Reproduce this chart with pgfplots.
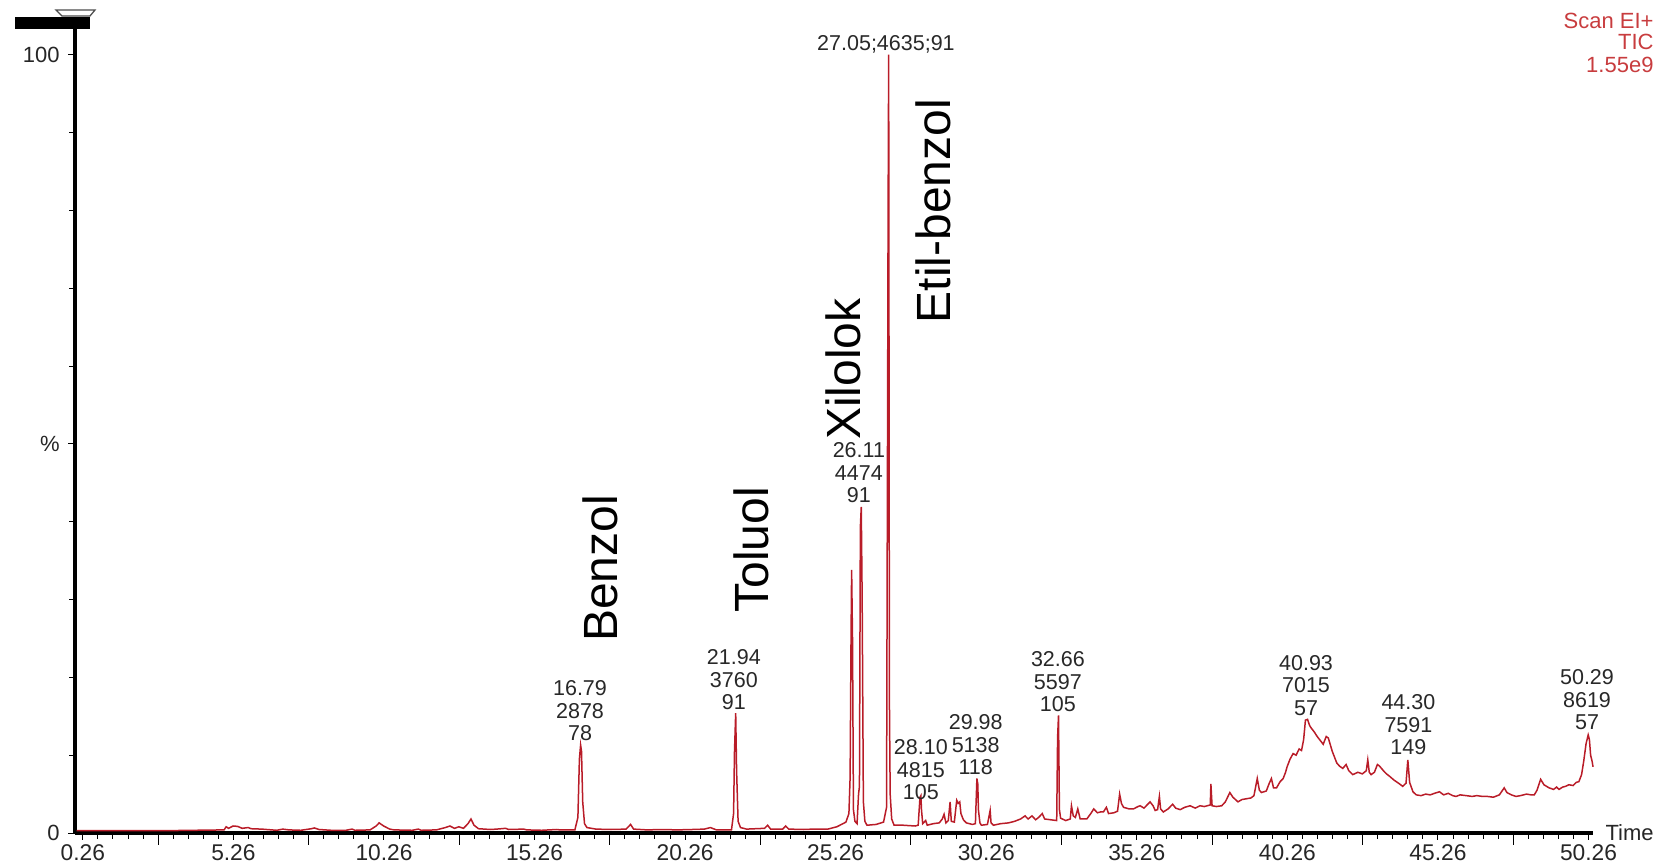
\documentclass[border=0pt]{standalone}
\usepackage{fontspec}
\setmainfont{Liberation Sans}
\usepackage{pgfplots}
\pgfplotsset{compat=1.18}
\definecolor{trace}{RGB}{185,28,40}
\definecolor{scanred}{RGB}{200,60,62}
\definecolor{lab}{RGB}{40,40,40}
\pgfplotstableread{
t p
0.05 0.3
1.0 0.3
2.0 0.3
3.0 0.3
4.0 0.35
4.95 0.4
5.02 0.8
5.1 0.6
5.25 0.9
5.4 0.85
5.55 0.6
5.75 0.7
5.85 0.55
6.2 0.5
6.7 0.35
6.9 0.5
7.1 0.4
7.5 0.35
7.85 0.55
7.95 0.65
8.1 0.45
8.5 0.35
9.0 0.35
9.2 0.5
9.3 0.35
9.8 0.4
10.0 0.9
10.1 1.3
10.25 0.9
10.45 0.5
10.6 0.4
11.2 0.35
11.4 0.5
11.5 0.35
12.0 0.4
12.3 0.7
12.45 0.9
12.6 0.6
12.75 0.8
12.9 0.6
13.05 1.2
13.15 1.8
13.25 1.0
13.4 0.55
13.8 0.45
14.0 0.5
14.3 0.6
14.4 0.45
14.9 0.5
15.0 0.4
15.5 0.35
16.0 0.45
16.1 0.4
16.6 0.4
16.7 2.0
16.75 9.5
16.79 11.3
16.82 10.5
16.86 4.0
16.92 1.2
17.0 0.7
17.3 0.5
17.8 0.45
18.3 0.5
18.45 1.1
18.55 0.5
19.0 0.4
19.5 0.45
20.0 0.4
20.5 0.45
20.9 0.5
21.1 0.7
21.3 0.4
21.8 0.4
21.87 2.5
21.9 10.4
21.94 15.4
21.97 8.0
22.02 1.5
22.1 0.7
22.3 0.5
22.9 0.6
23.0 1.0
23.1 0.5
23.5 0.5
23.6 0.9
23.7 0.5
24.2 0.45
24.5 0.5
25.0 0.5
25.3 0.8
25.5 1.2
25.6 1.4
25.7 2.5
25.74 7.2
25.77 24.8
25.79 33.8
25.82 24.8
25.85 3.0
25.9 1.5
25.97 1.2
26.02 5.0
26.05 6.0
26.08 39.3
26.11 41.9
26.14 30
26.18 4.0
26.23 1.5
26.3 1.0
26.6 1.1
26.85 1.4
26.95 3.3
27.0 78
27.02 100
27.045 17
27.07 5
27.12 1.8
27.2 1.0
27.5 1.0
27.9 0.9
28.0 1.0
28.06 4.6
28.09 4.8
28.11 3.0
28.15 1.2
28.25 1.6
28.3 1.0
28.5 1.2
28.7 1.3
28.8 1.8
28.86 2.4
28.92 1.3
29.0 1.6
29.06 4.0
29.1 1.5
29.2 1.4
29.28 4.2
29.33 3.8
29.38 4.0
29.42 2.5
29.5 1.7
29.6 1.3
29.8 1.1
29.9 1.2
29.95 7.0
29.98 6.3
30.0 3.0
30.05 1.3
30.1 1.0
30.3 1.1
30.39 2.9
30.42 1.3
30.5 1.0
30.74 1.2
31.0 1.3
31.2 1.5
31.4 1.8
31.55 2.2
31.65 1.8
31.78 2.2
31.9 1.7
32.0 2.0
32.12 2.5
32.2 1.8
32.4 1.7
32.6 1.6
32.63 12.3
32.66 15.1
32.69 3.0
32.73 1.9
32.9 1.6
33.05 1.8
33.09 3.5
33.15 2.2
33.22 2.0
33.3 3.1
33.38 1.8
33.6 1.8
33.75 2.6
33.83 3.1
33.95 2.6
34.05 2.7
34.15 2.7
34.25 3.3
34.32 2.5
34.5 2.6
34.62 2.8
34.69 5.0
34.75 3.8
34.82 3.3
35.0 3.1
35.15 3.1
35.3 3.4
35.37 3.5
35.5 3.2
35.6 3.6
35.7 4.0
35.8 3.5
35.87 2.9
35.95 3.0
36.01 4.7
36.05 3.1
36.14 2.7
36.3 3.1
36.45 3.7
36.55 3.2
36.7 3.0
36.85 3.3
37.03 3.5
37.2 3.2
37.36 3.5
37.5 3.4
37.7 3.6
37.72 6.3
37.76 3.5
37.9 3.4
38.08 3.5
38.2 4.0
38.35 5.2
38.45 4.6
38.62 4.0
38.75 4.3
38.9 4.4
39.05 4.5
39.15 4.8
39.26 7.0
39.33 5.5
39.4 5.2
39.56 5.4
39.66 6.4
39.73 7.0
39.8 5.8
39.9 5.8
40.02 6.6
40.12 7.0
40.2 7.8
40.25 8.5
40.35 9.5
40.45 10.2
40.55 10.0
40.65 10.8
40.73 10.6
40.8 12.0
40.86 14.5
40.93 14.6
41.0 13.8
41.05 13.5
41.15 13.0
41.25 12.4
41.33 12.0
41.45 11.4
41.55 12.4
41.62 12.2
41.75 10.5
41.9 9.0
41.99 8.6
42.1 8.3
42.21 8.8
42.3 8.0
42.43 7.5
42.6 7.8
42.75 7.6
42.88 8.0
42.93 9.4
42.98 7.8
43.04 7.5
43.15 7.8
43.25 8.8
43.32 8.6
43.45 8.0
43.55 7.6
43.65 7.3
43.8 6.8
43.95 6.4
44.09 6.0
44.2 6.4
44.26 9.4
44.32 6.5
44.43 5.3
44.54 4.9
44.7 4.8
44.85 5.0
45.0 4.9
45.15 5.1
45.31 5.3
45.45 4.9
45.6 5.1
45.75 4.8
45.86 4.7
46.0 4.9
46.2 4.8
46.4 4.7
46.55 4.8
46.74 4.7
46.9 4.7
47.1 4.6
47.3 4.9
47.46 5.8
47.55 5.2
47.7 4.9
47.85 4.7
48.0 4.8
48.2 5.0
48.35 4.9
48.46 4.9
48.55 5.5
48.67 6.9
48.78 6.2
48.95 5.8
49.1 5.6
49.2 5.9
49.28 5.6
49.4 5.9
49.5 6.0
49.61 6.2
49.75 6.1
49.85 6.5
49.94 6.6
50.03 7.5
50.1 9.2
50.18 11.5
50.25 12.6
50.29 12.0
50.33 10.0
50.38 9.2
50.41 8.5
}\tracedata
\begin{document}
\begin{tikzpicture}[x=1pt,y=1pt]
\useasboundingbox (0,0) rectangle (666,345.6);
\begin{axis}[
  at={(30pt,12.4pt)}, anchor=south west,
  scale only axis, width=607.2pt, height=321.6pt,
  xmin=0, xmax=50.41, ymin=0, ymax=103.3,
  clip=false,
  axis x line*=bottom, axis y line*=left,
  axis line style={line width=1.3pt,-,black},
  tick align=outside,
  tick style={line width=0.4pt,black},
  major tick length=2.6pt, minor tick length=2.2pt,
  xtick={0.26,5.26,10.26,15.26,20.26,25.26,30.26,35.26,40.26,45.26,50.26},
  xticklabels={0.26,5.26,10.26,15.26,20.26,25.26,30.26,35.26,40.26,45.26,50.26},
  minor x tick num=9,
  extra x ticks={2.76,7.76,12.76,17.76,22.76,27.76,32.76,37.76,42.76,47.76},
  extra x tick labels={},
  extra x tick style={major tick length=4.6pt},
  ytick={0,50,100}, yticklabels={0,\%,100},
  minor y tick num=4,
  xticklabel style={font=\fontsize{9.1}{10}\selectfont, text=black!85, inner ysep=0.6pt, yshift=-1.4pt},
  yticklabel style={font=\fontsize{8.8}{10}\selectfont, text=black!85},
]
\addplot[trace, line width=0.6pt] table[x=t,y=p] {\tracedata};
\begin{scope}[every node/.style={text=lab, font=\fontsize{8.6}{9}\selectfont, align=center}]
\node at (axis cs:16.77,15.7) {16.79\\2878\\78};
\node at (axis cs:21.88,19.7) {21.94\\3760\\91};
\node at (axis cs:26.03,46.3) {26.11\\4474\\91};
\node at (axis cs:26.93,101.3) {27.05;4635;91};
\node at (axis cs:28.09,8.1) {28.10\\4815\\105};
\node at (axis cs:29.91,11.3) {29.98\\5138\\118};
\node at (axis cs:32.64,19.4) {32.66\\5597\\105};
\node at (axis cs:40.88,19.0) {40.93\\7015\\57};
\node at (axis cs:44.28,13.9) {44.30\\7591\\149};
\node at (axis cs:50.21,17.1) {50.29\\8619\\57};
\end{scope}
\begin{scope}[every node/.style={text=black, rotate=90, font=\fontsize{19.2}{21}\selectfont}]
\node at (axis cs:17.44,34.0) {Benzol};
\node at (axis cs:22.45,36.4) {Toluol};
\node at (axis cs:25.51,59.6) {Xilolok};
\node at (axis cs:28.5,79.9) {Etil-benzol};
\end{scope}
\end{axis}
\fill[black] (6,333.9) rectangle (36,338.9);
\draw[black!70, line width=0.5pt] (22.4,341.6) -- (38,341.6) -- (36,339.2) -- (24.8,339.2) -- cycle;
\node[anchor=west, font=\fontsize{8.8}{10}\selectfont, inner sep=0pt, text=black!85] at (642,12.6) {Time};
\begin{scope}[every node/.style={anchor=east, inner sep=0pt, text=scanred, font=\fontsize{8.8}{10}\selectfont}]
\node at (661.6,337.2) {Scan EI+};
\node at (661.6,328.8) {TIC};
\node at (661.6,319.8) {1.55e9};
\end{scope}
\end{tikzpicture}
\end{document}
